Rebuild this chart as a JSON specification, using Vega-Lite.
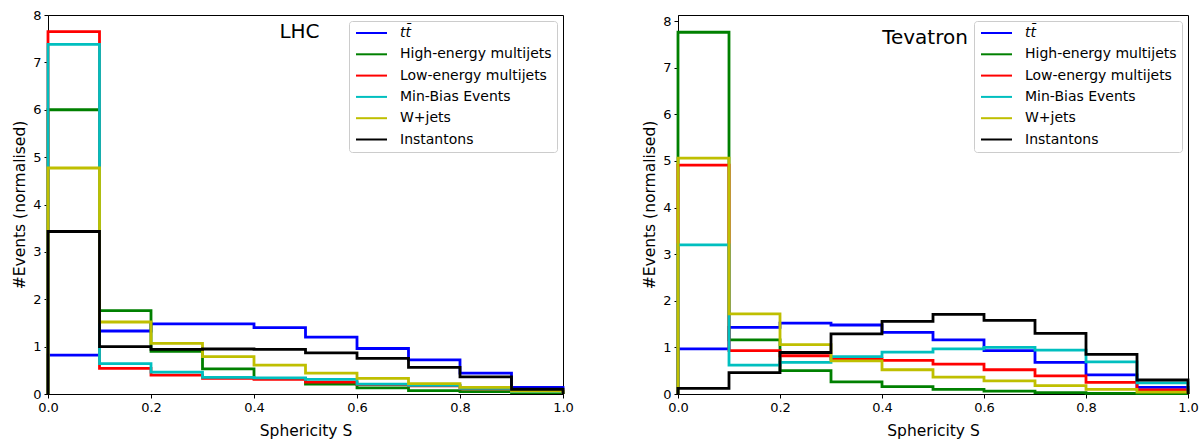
{
  "$schema": "https://vega.github.io/schema/vega-lite/v6.json",
  "background": "white",
  "padding": {"left": 12, "top": 8, "right": 3, "bottom": 5},
  "datasets": {
    "h": [
      {"p":"LHC","s":"tt\u0304","x":0,"y":0},{"p":"LHC","s":"tt\u0304","x":0,"y":0.82},{"p":"LHC","s":"tt\u0304","x":0.1,"y":1.33},{"p":"LHC","s":"tt\u0304","x":0.2,"y":1.48},{"p":"LHC","s":"tt\u0304","x":0.3,"y":1.48},{"p":"LHC","s":"tt\u0304","x":0.4,"y":1.40},{"p":"LHC","s":"tt\u0304","x":0.5,"y":1.20},{"p":"LHC","s":"tt\u0304","x":0.6,"y":0.96},{"p":"LHC","s":"tt\u0304","x":0.7,"y":0.72},{"p":"LHC","s":"tt\u0304","x":0.8,"y":0.44},{"p":"LHC","s":"tt\u0304","x":0.9,"y":0.14},{"p":"LHC","s":"tt\u0304","x":1.0,"y":0.14},{"p":"LHC","s":"tt\u0304","x":1.0,"y":0},
      {"p":"LHC","s":"High-energy multijets","x":0,"y":0},{"p":"LHC","s":"High-energy multijets","x":0,"y":6.00},{"p":"LHC","s":"High-energy multijets","x":0.1,"y":1.76},{"p":"LHC","s":"High-energy multijets","x":0.2,"y":0.90},{"p":"LHC","s":"High-energy multijets","x":0.3,"y":0.53},{"p":"LHC","s":"High-energy multijets","x":0.4,"y":0.33},{"p":"LHC","s":"High-energy multijets","x":0.5,"y":0.21},{"p":"LHC","s":"High-energy multijets","x":0.6,"y":0.13},{"p":"LHC","s":"High-energy multijets","x":0.7,"y":0.07},{"p":"LHC","s":"High-energy multijets","x":0.8,"y":0.05},{"p":"LHC","s":"High-energy multijets","x":0.9,"y":0.03},{"p":"LHC","s":"High-energy multijets","x":1.0,"y":0.03},{"p":"LHC","s":"High-energy multijets","x":1.0,"y":0},
      {"p":"LHC","s":"Low-energy multijets","x":0,"y":0},{"p":"LHC","s":"Low-energy multijets","x":0,"y":7.65},{"p":"LHC","s":"Low-energy multijets","x":0.1,"y":0.54},{"p":"LHC","s":"Low-energy multijets","x":0.2,"y":0.40},{"p":"LHC","s":"Low-energy multijets","x":0.3,"y":0.33},{"p":"LHC","s":"Low-energy multijets","x":0.4,"y":0.31},{"p":"LHC","s":"Low-energy multijets","x":0.5,"y":0.25},{"p":"LHC","s":"Low-energy multijets","x":0.6,"y":0.20},{"p":"LHC","s":"Low-energy multijets","x":0.7,"y":0.17},{"p":"LHC","s":"Low-energy multijets","x":0.8,"y":0.11},{"p":"LHC","s":"Low-energy multijets","x":0.9,"y":0.06},{"p":"LHC","s":"Low-energy multijets","x":1.0,"y":0.06},{"p":"LHC","s":"Low-energy multijets","x":1.0,"y":0},
      {"p":"LHC","s":"Min-Bias Events","x":0,"y":0},{"p":"LHC","s":"Min-Bias Events","x":0,"y":7.38},{"p":"LHC","s":"Min-Bias Events","x":0.1,"y":0.64},{"p":"LHC","s":"Min-Bias Events","x":0.2,"y":0.46},{"p":"LHC","s":"Min-Bias Events","x":0.3,"y":0.35},{"p":"LHC","s":"Min-Bias Events","x":0.4,"y":0.34},{"p":"LHC","s":"Min-Bias Events","x":0.5,"y":0.31},{"p":"LHC","s":"Min-Bias Events","x":0.6,"y":0.21},{"p":"LHC","s":"Min-Bias Events","x":0.7,"y":0.18},{"p":"LHC","s":"Min-Bias Events","x":0.8,"y":0.12},{"p":"LHC","s":"Min-Bias Events","x":0.9,"y":0.05},{"p":"LHC","s":"Min-Bias Events","x":1.0,"y":0.05},{"p":"LHC","s":"Min-Bias Events","x":1.0,"y":0},
      {"p":"LHC","s":"W+jets","x":0,"y":0},{"p":"LHC","s":"W+jets","x":0,"y":4.77},{"p":"LHC","s":"W+jets","x":0.1,"y":1.52},{"p":"LHC","s":"W+jets","x":0.2,"y":1.07},{"p":"LHC","s":"W+jets","x":0.3,"y":0.79},{"p":"LHC","s":"W+jets","x":0.4,"y":0.61},{"p":"LHC","s":"W+jets","x":0.5,"y":0.44},{"p":"LHC","s":"W+jets","x":0.6,"y":0.33},{"p":"LHC","s":"W+jets","x":0.7,"y":0.22},{"p":"LHC","s":"W+jets","x":0.8,"y":0.14},{"p":"LHC","s":"W+jets","x":0.9,"y":0.06},{"p":"LHC","s":"W+jets","x":1.0,"y":0.06},{"p":"LHC","s":"W+jets","x":1.0,"y":0},
      {"p":"LHC","s":"Instantons","x":0,"y":0},{"p":"LHC","s":"Instantons","x":0,"y":3.43},{"p":"LHC","s":"Instantons","x":0.1,"y":1.00},{"p":"LHC","s":"Instantons","x":0.2,"y":0.94},{"p":"LHC","s":"Instantons","x":0.3,"y":0.95},{"p":"LHC","s":"Instantons","x":0.4,"y":0.94},{"p":"LHC","s":"Instantons","x":0.5,"y":0.87},{"p":"LHC","s":"Instantons","x":0.6,"y":0.75},{"p":"LHC","s":"Instantons","x":0.7,"y":0.56},{"p":"LHC","s":"Instantons","x":0.8,"y":0.36},{"p":"LHC","s":"Instantons","x":0.9,"y":0.10},{"p":"LHC","s":"Instantons","x":1.0,"y":0.10},{"p":"LHC","s":"Instantons","x":1.0,"y":0},
      {"p":"Tevatron","s":"tt\u0304","x":0,"y":0},{"p":"Tevatron","s":"tt\u0304","x":0,"y":0.97},{"p":"Tevatron","s":"tt\u0304","x":0.1,"y":1.43},{"p":"Tevatron","s":"tt\u0304","x":0.2,"y":1.52},{"p":"Tevatron","s":"tt\u0304","x":0.3,"y":1.48},{"p":"Tevatron","s":"tt\u0304","x":0.4,"y":1.32},{"p":"Tevatron","s":"tt\u0304","x":0.5,"y":1.16},{"p":"Tevatron","s":"tt\u0304","x":0.6,"y":0.93},{"p":"Tevatron","s":"tt\u0304","x":0.7,"y":0.68},{"p":"Tevatron","s":"tt\u0304","x":0.8,"y":0.41},{"p":"Tevatron","s":"tt\u0304","x":0.9,"y":0.14},{"p":"Tevatron","s":"tt\u0304","x":1.0,"y":0.14},{"p":"Tevatron","s":"tt\u0304","x":1.0,"y":0},
      {"p":"Tevatron","s":"High-energy multijets","x":0,"y":0},{"p":"Tevatron","s":"High-energy multijets","x":0,"y":7.76},{"p":"Tevatron","s":"High-energy multijets","x":0.1,"y":1.16},{"p":"Tevatron","s":"High-energy multijets","x":0.2,"y":0.50},{"p":"Tevatron","s":"High-energy multijets","x":0.3,"y":0.26},{"p":"Tevatron","s":"High-energy multijets","x":0.4,"y":0.16},{"p":"Tevatron","s":"High-energy multijets","x":0.5,"y":0.10},{"p":"Tevatron","s":"High-energy multijets","x":0.6,"y":0.06},{"p":"Tevatron","s":"High-energy multijets","x":0.7,"y":0.03},{"p":"Tevatron","s":"High-energy multijets","x":0.8,"y":0.015},{"p":"Tevatron","s":"High-energy multijets","x":0.9,"y":0.01},{"p":"Tevatron","s":"High-energy multijets","x":1.0,"y":0.01},{"p":"Tevatron","s":"High-energy multijets","x":1.0,"y":0},
      {"p":"Tevatron","s":"Low-energy multijets","x":0,"y":0},{"p":"Tevatron","s":"Low-energy multijets","x":0,"y":4.91},{"p":"Tevatron","s":"Low-energy multijets","x":0.1,"y":0.93},{"p":"Tevatron","s":"Low-energy multijets","x":0.2,"y":0.82},{"p":"Tevatron","s":"Low-energy multijets","x":0.3,"y":0.76},{"p":"Tevatron","s":"Low-energy multijets","x":0.4,"y":0.72},{"p":"Tevatron","s":"Low-energy multijets","x":0.5,"y":0.64},{"p":"Tevatron","s":"Low-energy multijets","x":0.6,"y":0.52},{"p":"Tevatron","s":"Low-energy multijets","x":0.7,"y":0.39},{"p":"Tevatron","s":"Low-energy multijets","x":0.8,"y":0.25},{"p":"Tevatron","s":"Low-energy multijets","x":0.9,"y":0.09},{"p":"Tevatron","s":"Low-energy multijets","x":1.0,"y":0.09},{"p":"Tevatron","s":"Low-energy multijets","x":1.0,"y":0},
      {"p":"Tevatron","s":"Min-Bias Events","x":0,"y":0},{"p":"Tevatron","s":"Min-Bias Events","x":0,"y":3.20},{"p":"Tevatron","s":"Min-Bias Events","x":0.1,"y":0.62},{"p":"Tevatron","s":"Min-Bias Events","x":0.2,"y":0.68},{"p":"Tevatron","s":"Min-Bias Events","x":0.3,"y":0.80},{"p":"Tevatron","s":"Min-Bias Events","x":0.4,"y":0.90},{"p":"Tevatron","s":"Min-Bias Events","x":0.5,"y":0.97},{"p":"Tevatron","s":"Min-Bias Events","x":0.6,"y":1.00},{"p":"Tevatron","s":"Min-Bias Events","x":0.7,"y":0.94},{"p":"Tevatron","s":"Min-Bias Events","x":0.8,"y":0.69},{"p":"Tevatron","s":"Min-Bias Events","x":0.9,"y":0.24},{"p":"Tevatron","s":"Min-Bias Events","x":1.0,"y":0.24},{"p":"Tevatron","s":"Min-Bias Events","x":1.0,"y":0},
      {"p":"Tevatron","s":"W+jets","x":0,"y":0},{"p":"Tevatron","s":"W+jets","x":0,"y":5.06},{"p":"Tevatron","s":"W+jets","x":0.1,"y":1.72},{"p":"Tevatron","s":"W+jets","x":0.2,"y":1.06},{"p":"Tevatron","s":"W+jets","x":0.3,"y":0.71},{"p":"Tevatron","s":"W+jets","x":0.4,"y":0.52},{"p":"Tevatron","s":"W+jets","x":0.5,"y":0.36},{"p":"Tevatron","s":"W+jets","x":0.6,"y":0.28},{"p":"Tevatron","s":"W+jets","x":0.7,"y":0.18},{"p":"Tevatron","s":"W+jets","x":0.8,"y":0.10},{"p":"Tevatron","s":"W+jets","x":0.9,"y":0.04},{"p":"Tevatron","s":"W+jets","x":1.0,"y":0.04},{"p":"Tevatron","s":"W+jets","x":1.0,"y":0},
      {"p":"Tevatron","s":"Instantons","x":0,"y":0},{"p":"Tevatron","s":"Instantons","x":0,"y":0.12},{"p":"Tevatron","s":"Instantons","x":0.1,"y":0.46},{"p":"Tevatron","s":"Instantons","x":0.2,"y":0.89},{"p":"Tevatron","s":"Instantons","x":0.3,"y":1.29},{"p":"Tevatron","s":"Instantons","x":0.4,"y":1.56},{"p":"Tevatron","s":"Instantons","x":0.5,"y":1.71},{"p":"Tevatron","s":"Instantons","x":0.6,"y":1.58},{"p":"Tevatron","s":"Instantons","x":0.7,"y":1.30},{"p":"Tevatron","s":"Instantons","x":0.8,"y":0.85},{"p":"Tevatron","s":"Instantons","x":0.9,"y":0.30},{"p":"Tevatron","s":"Instantons","x":1.0,"y":0.30},{"p":"Tevatron","s":"Instantons","x":1.0,"y":0}
    ]
  },
  "hconcat": [
    {
      "width": 515,
      "height": 379,
      "title": {"text": "LHC", "anchor": "middle", "dx": -6, "dy": 37, "fontSize": 20, "fontWeight": "normal", "font": "DejaVu Sans", "color": "black"},
      "data": {"name": "h"},
      "transform": [{"filter": "datum.p === 'LHC'"}],
      "mark": {"type": "line", "interpolate": "step-after", "strokeWidth": 2.8, "clip": false},
      "encoding": {
        "x": {"field": "x", "type": "quantitative", "scale": {"domain": [0, 1], "nice": false}, "axis": {"title": "Sphericity S", "values": [0, 0.2, 0.4, 0.6, 0.8, 1.0], "format": ".1f", "labelFlush": false, "titlePadding": 9}},
        "y": {"field": "y", "type": "quantitative", "scale": {"domain": [0, 8], "nice": false}, "axis": {"title": "#Events (normalised)", "values": [0, 1, 2, 3, 4, 5, 6, 7, 8], "format": "d", "labelFlush": false}},
        "color": {"field": "s", "type": "nominal", "sort": null,
          "scale": {"domain": ["tt\u0304", "High-energy multijets", "Low-energy multijets", "Min-Bias Events", "W+jets", "Instantons"], "range": ["#0000ff", "#008000", "#ff0000", "#00bfbf", "#bfbf00", "#000000"]},
          "legend": {"title": null, "orient": "top-right", "offset": 6, "encode": {"labels": {"update": {"fontStyle": {"signal": "datum.value === 'tt\u0304' ? 'italic' : 'normal'"}}}}}},
        "order": {"value": null}
      }
    },
    {
      "width": 510,
      "height": 379,
      "title": {"text": "Tevatron", "anchor": "middle", "dx": -8, "dy": 37, "fontSize": 20, "fontWeight": "normal", "font": "DejaVu Sans", "color": "black"},
      "data": {"name": "h"},
      "transform": [{"filter": "datum.p === 'Tevatron'"}],
      "mark": {"type": "line", "interpolate": "step-after", "strokeWidth": 2.8, "clip": false},
      "encoding": {
        "x": {"field": "x", "type": "quantitative", "scale": {"domain": [0, 1], "nice": false}, "axis": {"title": "Sphericity S", "values": [0, 0.2, 0.4, 0.6, 0.8, 1.0], "format": ".1f", "labelFlush": false, "titlePadding": 9}},
        "y": {"field": "y", "type": "quantitative", "scale": {"domain": [0, 8.13], "nice": false}, "axis": {"title": "#Events (normalised)", "values": [0, 1, 2, 3, 4, 5, 6, 7, 8], "format": "d", "labelFlush": false}},
        "color": {"field": "s", "type": "nominal", "sort": null,
          "scale": {"domain": ["tt\u0304", "High-energy multijets", "Low-energy multijets", "Min-Bias Events", "W+jets", "Instantons"], "range": ["#0000ff", "#008000", "#ff0000", "#00bfbf", "#bfbf00", "#000000"]},
          "legend": {"title": null, "orient": "top-right", "offset": 6, "encode": {"labels": {"update": {"fontStyle": {"signal": "datum.value === 'tt\u0304' ? 'italic' : 'normal'"}}}}}},
        "order": {"value": null}
      }
    }
  ],
  "spacing": 68,
  "resolve": {"scale": {"y": "independent", "color": "independent"}, "legend": {"color": "independent"}},
  "config": {
    "font": "DejaVu Sans",
    "view": {"stroke": "black", "strokeWidth": 1},
    "axis": {"grid": false, "domainColor": "black", "tickColor": "black", "labelColor": "black", "titleColor": "black", "labelFont": "DejaVu Sans", "titleFont": "DejaVu Sans", "labelFontSize": 13, "titleFontSize": 15.5, "titleFontWeight": "normal", "tickSize": 4, "labelPadding": 3, "titlePadding": 5},
    "legend": {"labelFont": "DejaVu Sans", "labelFontSize": 14, "labelColor": "black", "symbolType": "M-1,0H5.2", "symbolSize": 100, "symbolStrokeWidth": 2, "labelOffset": 32, "rowPadding": 7.3, "padding": 5, "strokeColor": "#cccccc", "fillColor": "rgba(255,255,255,0.8)", "cornerRadius": 3}
  }
}
